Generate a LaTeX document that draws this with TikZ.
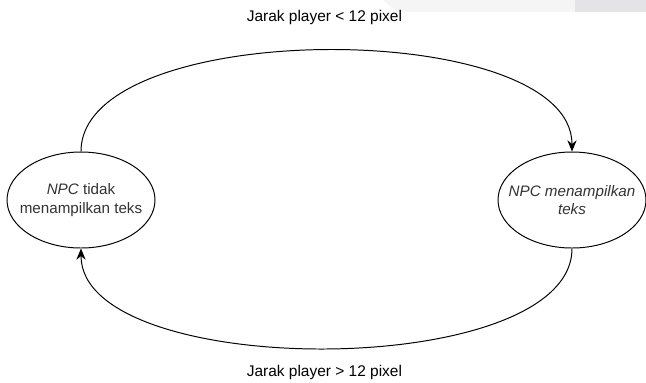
\documentclass[tikz,border=0pt]{standalone}
\usepackage{fontspec}
\setmainfont{Liberation Sans}
\usetikzlibrary{
  arrows.meta,
  positioning,
  shapes.geometric
}
\definecolor{StateText}{RGB}{51,51,51}
\definecolor{BarLight}{RGB}{245,245,246}
\definecolor{BarDark}{RGB}{228,228,230}
\tikzset{
  statebox/.style={
    ellipse,
    draw=black,
    fill=white,
    line width=0.7pt,
    minimum width=3.7cm,
    minimum height=2.4cm,
    align=center,
    text=StateText,
    font=\fontsize{10.8}{13}\selectfont,
    inner xsep=-3mm,
    inner ysep=0mm
  },
  condlabel/.style={font=\fontsize{11}{13}\selectfont, text=black},
  arrow/.style={-{Stealth[length=2.8mm,width=2.3mm]},line width=0.7pt,draw=black}
}

\begin{document}
\begin{tikzpicture}
  \useasboundingbox (0,0) rectangle (16.15,-9.55);
  % grey strip cut off at the top edge of the screenshot
  \fill[BarLight] (9.575,0) -- (16.15,0) -- (16.15,-0.3) -- (9.925,-0.3) -- cycle;
  \fill[BarDark] (14.375,0) rectangle (16.15,-0.3);

  \node[statebox] (idle) at (2.025,-5) {\textit{NPC} tidak\\menampilkan teks};
  \node[statebox, right=8.55cm of idle] (talk) {\textit{NPC menampilkan}\\\textit{teks}};

  \node[condlabel] (near) at (8.11,-0.45) {Jarak player < 12 pixel};
  \node[condlabel] (far) at (8.11,-9.3) {Jarak player > 12 pixel};

  \draw[arrow] (idle.north) .. controls +(0,3.37) and +(0,3.37) .. (talk.north);
  \draw[arrow] (talk.south) .. controls +(0,-3.32) and +(0,-3.32) .. (idle.south);
\end{tikzpicture}
\end{document}
